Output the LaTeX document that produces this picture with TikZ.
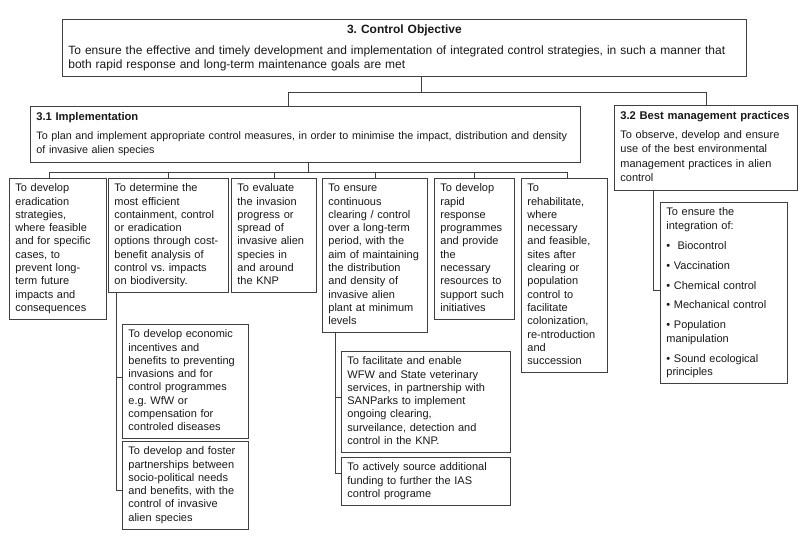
\documentclass[tikz,border=0pt]{standalone}
\usepackage{fontspec}
\setmainfont{Liberation Sans}
\newcommand\igap{\par\vskip6.4pt\relax}
\begin{document}
\frenchspacing
\begin{tikzpicture}[x=1pt,y=-1pt,
  box/.style={draw=black!75, line width=0.8pt, anchor=north west, align=left,
    inner xsep=6pt, inner ysep=4pt, text=black!90, font=\fontsize{11}{13.3}\selectfont},
  bigbox/.style={box, font=\fontsize{11}{14.5}\selectfont},
  conn/.style={draw=black!75, line width=0.8pt}]
\useasboundingbox (0,0) rectangle (800,540);
\fill[white] (0,0) rectangle (800,540);

% level 0
\node[box, font=\fontsize{12}{14.5}\selectfont, text width=672pt] (top) at (62,19)
 {{\centering\bfseries\strut 3. Control Objective\par}\vskip6pt
  \strut To ensure the effective and timely development and implementation of integrated control strategies, in such a manner that\\
  both rapid response and long-term maintenance goals are met\strut};

% level 1
\node[bigbox, font=\fontsize{10.8}{14.5}\selectfont, inner xsep=4pt, text width=542pt] (impl) at (30,106)
 {{\fontsize{11.2}{14.5}\selectfont\bfseries\strut\hspace{2pt}3.1 Implementation\par}\vskip4.3pt
  \strut\mbox{\hspace{2pt}To plan and implement appropriate control measures, in order to minimise the impact, distribution and density}\\
  \hspace*{2pt}of invasive alien species\strut};
\node[bigbox, text width=171pt] (bmp) at (614,105)
 {{\fontsize{11.2}{14.5}\selectfont\bfseries\strut 3.2 Best management practices\par}\vskip4.3pt
  \strut To observe, develop and ensure\\ use of the best environmental\\ management practices in alien\\ control\strut};

% level 2
\node[box, text width=85pt] (b1) at (9,178)
 {\strut To develop\\ eradication\\ strategies,\\ where feasible\\ and for specific\\ cases, to\\ prevent long-\\ term future\\ impacts and\\ consequences\strut};
\node[box, text width=108pt] (b2) at (108,178)
 {\strut To determine the\\ most efficient\\ containment, control\\ or eradication\\ options through cost-\\ benefit analysis of\\ control vs. impacts\\ on biodiversity.\strut};
\node[box, text width=73pt] (b3) at (231,178)
 {\strut To evaluate\\ the invasion\\ progress or\\ spread of\\ invasive alien\\ species in\\ and around\\ the KNP\strut};
\node[box, text width=93pt] (b4) at (322,178)
 {\strut To ensure\\ continuous\\ clearing / control\\ over a long-term\\ period, with the\\ aim of maintaining\\ the distribution\\ and density of\\ invasive alien\\ plant at minimum\\ levels\strut};
\node[box, text width=68pt] (b5) at (434,178)
 {\strut To develop\\ rapid\\ response\\ programmes\\ and provide\\ the\\ necessary\\ resources to\\ support such\\ initiatives\strut};
\node[box, text width=74pt] (b6) at (521,178)
 {\strut To\\ rehabilitate,\\ where\\ necessary\\ and feasible,\\ sites after\\ clearing or\\ population\\ control to\\ facilitate\\ colonization,\\ re-ntroduction\\ and\\ succession\strut};

% level 3
\node[box, text width=114pt] (bA) at (122,324)
 {\strut To develop economic\\ incentives and\\ benefits to preventing\\ invasions and for\\ control programmes\\ e.g. WfW or\\ compensation for\\ controled diseases\strut};
\node[box, text width=114pt] (bB) at (122,441)
 {\strut To develop and foster\\ partnerships between\\ socio-political needs\\ and benefits, with the\\ control of invasive\\ alien species\strut};
\node[box, text width=157pt] (bC) at (341,351)
 {\strut To facilitate and enable\\ WFW and State veterinary\\ services, in partnership with\\ SANParks to implement\\ ongoing clearing,\\ surveilance, detection and\\ control in the KNP.\strut};
\node[box, text width=157pt] (bD) at (341,457)
 {\strut To actively source additional\\ funding to further the IAS\\ control programe\strut};
\node[box, font=\fontsize{11}{13.5}\selectfont, text width=115pt] (integ) at (660,202)
 {\strut To ensure the\\ integration of:\igap
  \textbullet\ \ Biocontrol\igap
  \textbullet\ Vaccination\igap
  \textbullet\ Chemical control\igap
  \textbullet\ Mechanical control\igap
  \textbullet\ Population\\ manipulation\igap
  \textbullet\ Sound ecological\\ principles\strut};

% connectors level 0 -> 1
\coordinate (j0) at (421,92);
\coordinate (jl) at (288,92);
\coordinate (jr) at (706,92);
\draw[conn] (top.south -| j0) -- (j0);
\draw[conn] (jl |- impl.north) -- (jl) -- (jr) -- (jr |- bmp.north);

% connectors 3.1 -> level 2
\coordinate (j2) at (308,172.5);
\coordinate (h1) at (49.5,172.5);
\coordinate (h6) at (567,172.5);
\draw[conn] (impl.south -| j2) -- (j2);
\draw[conn] (h1 |- b1.north) -- (h1) -- (h6) -- (h6 |- b6.north);
\foreach \b in {b2,b3,b4,b5}{\draw[conn] (\b.north |- h1) -- (\b.north);}

% box 2 -> A, B
\coordinate (sA) at (116,377);
\coordinate (sB) at (116,490);
\draw[conn] (sA |- b2.south) -- (sB) -- (sB -| bB.west);
\draw[conn] (sA) -- (sA -| bA.west);

% box 4 -> C, D
\coordinate (sC) at (335,397);
\coordinate (sD) at (335,473);
\draw[conn] (sC |- b4.south) -- (sD) -- (sD -| bD.west);
\draw[conn] (sC) -- (sC -| bC.west);

% 3.2 -> integration
\coordinate (sI) at (653,290);
\draw[conn] (sI |- bmp.south) -- (sI) -- (sI -| integ.west);
\end{tikzpicture}
\end{document}
